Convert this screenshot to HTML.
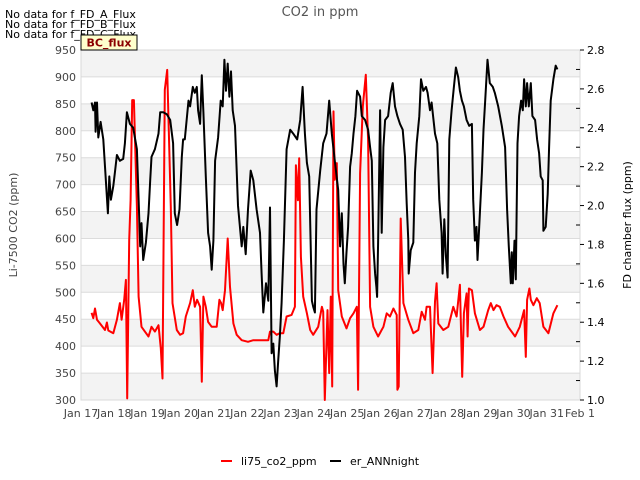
<!DOCTYPE html>
<html><head><meta charset="utf-8">
<style>
body{margin:0;background:#fff;}
svg{display:block;font-family:"DejaVu Sans","Liberation Sans",sans-serif;}
</style></head>
<body>
<svg id="chart" width="640" height="480" viewBox="0 0 640 480" xmlns="http://www.w3.org/2000/svg">
  <g id="bands"></g>
  <g id="grid"></g>
  <rect x="81" y="50" width="499" height="350" fill="none" stroke="#d8d8d8" stroke-width="1"/>
  <g id="series"></g>
  <g id="axes"></g>
  <text x="320" y="16" text-anchor="middle" font-size="13" fill="#555">CO2 in ppm</text>
  <text x="5" y="18" font-size="11" fill="#000">No data for f_FD_A_Flux</text>
  <text x="5" y="28" font-size="11" fill="#000">No data for f_FD_B_Flux</text>
  <text x="5" y="38" font-size="11" fill="#000">No data for f_FD_C_Flux</text>
  <g>
    <rect x="81" y="35" width="56" height="15" fill="#ffffcc" stroke="#000" stroke-width="1"/>
    <text x="109" y="46.5" text-anchor="middle" font-size="11" font-weight="bold" fill="#8b0000">BC_flux</text>
  </g>
  <text transform="translate(17,225) rotate(-90)" text-anchor="middle" font-size="11" fill="#444">Li-7500 CO2 (ppm)</text>
  <text transform="translate(631,225) rotate(-90)" text-anchor="middle" font-size="11" fill="#000">FD chamber flux (ppm)</text>
  <g>
    <g>
      <line x1="221" y1="461" x2="232" y2="461" stroke="#ff0000" stroke-width="2"/>
      <text x="241" y="465" font-size="11" fill="#000">li75_co2_ppm</text>
    </g>
    <g>
      <line x1="330" y1="461" x2="341" y2="461" stroke="#000" stroke-width="2"/>
      <text x="350" y="465" font-size="11" fill="#000">er_ANNnight</text>
    </g>
  </g>
</svg>
<script>
const xTickLabels = ["Jan 17","Jan 18","Jan 19","Jan 20","Jan 21","Jan 22","Jan 23","Jan 24","Jan 25","Jan 26","Jan 27","Jan 28","Jan 29","Jan 30","Jan 31","Feb 1"];
const leftTicks = [300,350,400,450,500,550,600,650,700,750,800,850,900,950];
const rightTicks = [1.0,1.2,1.4,1.6,1.8,2.0,2.2,2.4,2.6,2.8];
const co2Times = [0.32,0.37,0.42,0.48,0.57,0.72,0.78,0.82,0.97,1.08,1.17,1.22,1.30,1.35,1.39,1.45,1.49,1.54,1.59,1.68,1.73,1.82,1.92,2.03,2.12,2.22,2.33,2.40,2.45,2.52,2.59,2.70,2.75,2.88,2.98,3.07,3.15,3.28,3.36,3.42,3.49,3.58,3.63,3.68,3.75,3.82,3.93,4.08,4.16,4.21,4.26,4.33,4.41,4.48,4.58,4.68,4.83,5.02,5.18,5.63,5.68,5.78,5.88,5.98,6.08,6.18,6.33,6.43,6.46,6.52,6.56,6.61,6.68,6.79,6.89,6.98,7.13,7.24,7.28,7.33,7.41,7.46,7.51,7.55,7.59,7.63,7.69,7.73,7.84,7.98,8.09,8.19,8.29,8.33,8.39,8.47,8.56,8.63,8.69,8.79,8.93,9.09,9.19,9.29,9.39,9.49,9.51,9.55,9.61,9.69,9.84,9.99,10.14,10.24,10.34,10.39,10.49,10.57,10.64,10.69,10.74,10.89,11.04,11.19,11.29,11.39,11.46,11.51,11.59,11.62,11.66,11.75,11.84,11.99,12.10,12.24,12.32,12.40,12.49,12.59,12.70,12.84,13.05,13.19,13.32,13.37,13.41,13.48,13.52,13.60,13.70,13.79,13.90,14.05,14.20,14.32];
const co2Values = [462,452,470,449,442,430,444,429,424,449,480,449,486,523,303,597,671,857,857,659,492,436,427,418,436,427,439,396,340,876,913,659,480,430,421,424,455,480,504,473,486,473,334,492,473,445,436,436,486,480,467,504,600,510,442,421,411,408,411,411,427,427,421,424,424,455,458,473,736,671,749,566,492,461,430,421,436,473,464,300,467,350,492,325,836,709,740,504,455,433,452,461,473,319,721,845,904,783,473,436,418,436,461,455,470,458,319,325,637,480,449,424,430,464,449,473,473,350,483,517,442,430,436,473,455,514,343,461,498,418,507,504,461,430,436,467,480,467,476,473,455,436,418,436,467,380,486,507,486,476,489,480,436,424,461,476];
const fluxTimes = [0.32,0.37,0.42,0.44,0.48,0.52,0.59,0.67,0.72,0.81,0.85,0.90,0.97,1.02,1.08,1.17,1.27,1.32,1.38,1.47,1.57,1.68,1.78,1.82,1.87,1.95,2.03,2.08,2.12,2.22,2.33,2.38,2.47,2.58,2.68,2.77,2.82,2.89,2.96,3.03,3.07,3.12,3.23,3.28,3.36,3.42,3.48,3.52,3.58,3.63,3.68,3.75,3.82,3.88,3.93,3.98,4.03,4.12,4.20,4.26,4.31,4.36,4.41,4.46,4.51,4.56,4.63,4.72,4.83,4.88,4.95,5.02,5.10,5.18,5.28,5.38,5.43,5.48,5.56,5.63,5.68,5.73,5.78,5.83,5.88,5.93,5.98,6.03,6.10,6.18,6.29,6.38,6.50,6.59,6.66,6.73,6.79,6.86,6.94,6.98,7.03,7.08,7.19,7.28,7.38,7.46,7.54,7.63,7.73,7.79,7.84,7.89,7.93,7.98,8.03,8.09,8.14,8.19,8.25,8.30,8.39,8.44,8.54,8.63,8.69,8.74,8.79,8.84,8.88,8.90,8.93,8.99,9.04,9.09,9.14,9.23,9.31,9.37,9.44,9.51,9.59,9.67,9.74,9.79,9.84,9.85,9.91,9.99,10.04,10.09,10.17,10.22,10.29,10.37,10.42,10.49,10.54,10.64,10.71,10.77,10.84,10.87,10.92,10.97,11.02,11.07,11.14,11.21,11.27,11.34,11.39,11.45,11.51,11.59,11.67,11.75,11.79,11.84,11.89,11.92,11.97,12.05,12.10,12.15,12.22,12.29,12.38,12.44,12.54,12.65,12.75,12.81,12.86,12.92,12.95,12.98,13.03,13.07,13.12,13.17,13.23,13.28,13.32,13.37,13.41,13.46,13.52,13.57,13.65,13.71,13.77,13.82,13.88,13.90,13.97,14.03,14.07,14.12,14.20,14.27,14.32];
const fluxValues = [2.53,2.49,2.53,2.38,2.53,2.35,2.43,2.34,2.20,1.96,2.15,2.03,2.10,2.17,2.26,2.23,2.24,2.32,2.48,2.42,2.40,2.29,1.79,1.91,1.72,1.81,1.96,2.13,2.25,2.29,2.37,2.48,2.48,2.47,2.44,2.32,1.96,1.90,1.98,2.25,2.34,2.34,2.54,2.51,2.61,2.58,2.61,2.49,2.42,2.67,2.48,2.15,1.86,1.79,1.67,1.82,2.23,2.35,2.54,2.51,2.75,2.59,2.73,2.56,2.69,2.49,2.41,2.00,1.79,1.89,1.75,1.98,2.18,2.13,1.98,1.86,1.65,1.45,1.60,1.51,1.99,1.24,1.29,1.15,1.07,1.21,1.33,1.50,1.82,2.29,2.39,2.37,2.34,2.44,2.61,2.37,2.22,2.15,1.51,1.48,1.45,1.98,2.18,2.32,2.37,2.54,2.37,2.23,2.08,1.79,1.96,1.70,1.60,1.76,1.89,2.20,2.27,2.37,2.46,2.59,2.56,2.46,2.44,2.39,2.30,2.23,1.79,1.65,1.58,1.53,1.81,2.49,1.86,2.30,2.44,2.46,2.58,2.63,2.51,2.46,2.42,2.39,2.25,2.01,1.82,1.65,1.77,1.81,2.17,2.32,2.46,2.65,2.59,2.61,2.58,2.49,2.53,2.37,2.32,2.03,1.86,1.65,1.93,1.74,1.63,2.34,2.49,2.61,2.71,2.66,2.59,2.54,2.51,2.44,2.41,2.42,2.03,1.82,1.89,1.72,1.89,2.17,2.39,2.54,2.75,2.63,2.61,2.58,2.51,2.41,2.30,1.98,1.79,1.60,1.76,1.60,1.82,1.62,2.32,2.46,2.54,2.49,2.65,2.51,2.63,2.51,2.63,2.46,2.44,2.34,2.27,2.15,2.13,1.87,1.89,2.06,2.30,2.54,2.65,2.72,2.70];

const NS = "http://www.w3.org/2000/svg";
const L = 81, R = 580, T = 50, B = 400;
const xScale = d => L + d * (R - L) / 15;
const yLeft = v => B - (v - 300) * (B - T) / 650;
const yRight = v => B - (v - 1.0) * (B - T) / 1.8;
function mk(tag, attrs, parent){ const e = document.createElementNS(NS, tag); for (const k in attrs) e.setAttribute(k, attrs[k]); parent.appendChild(e); return e; }

const bands = document.getElementById('bands');
const grid = document.getElementById('grid');
const axes = document.getElementById('axes');
const series = document.getElementById('series');

for (let i = 0; i < leftTicks.length - 1; i++) {
  if (i % 2 === 0) {
    const r = mk('rect', {x: L, y: yLeft(leftTicks[i+1]), width: R - L, height: yLeft(leftTicks[i]) - yLeft(leftTicks[i+1]), fill: '#f3f3f3'}, bands);
    
    
  }
}
leftTicks.forEach(v => {
  const ln = mk('line', {x1: L, x2: R, y1: yLeft(v), y2: yLeft(v), stroke: '#dcdcdc', 'stroke-width': 1}, grid);
  
  
  const t = mk('text', {x: 76, y: yLeft(v) + 4, 'text-anchor': 'end', 'font-size': 11, fill: '#444'}, axes);
  t.textContent = v;
  
  
});
rightTicks.forEach(v => {
  const t = mk('text', {x: 587, y: yRight(v) + 4, 'font-size': 11, fill: '#000'}, axes);
  t.textContent = v.toFixed(1);
  
  
  const tk = mk('line', {x1: 580, x2: 584, y1: yRight(v), y2: yRight(v), stroke: '#000'}, axes);
  
  
});
for (let i = 0; i < rightTicks.length - 1; i++) {
  const m = (rightTicks[i] + rightTicks[i+1]) / 2;
  const tk = mk('line', {x1: 576, x2: 580, y1: yRight(m), y2: yRight(m), stroke: '#000'}, axes);
  
  
}
xTickLabels.forEach((lab, i) => {
  const t = mk('text', {x: xScale(i), y: 417, 'text-anchor': 'middle', 'font-size': 11, fill: '#444'}, axes);
  t.textContent = lab;
  
  
});

function pathFrom(ts, vs, ys){ return ts.map((t, i) => (i ? 'L' : 'M') + xScale(t).toFixed(1) + ',' + ys(vs[i]).toFixed(1)).join(''); }
const pRed = mk('path', {d: pathFrom(co2Times, co2Values, yLeft), fill: 'none', stroke: '#ff0000', 'stroke-width': 2, 'stroke-linejoin': 'round'}, series);


const pBlack = mk('path', {d: pathFrom(fluxTimes, fluxValues, yRight), fill: 'none', stroke: '#000', 'stroke-width': 2, 'stroke-linejoin': 'round'}, series);


</script>
</body></html>
